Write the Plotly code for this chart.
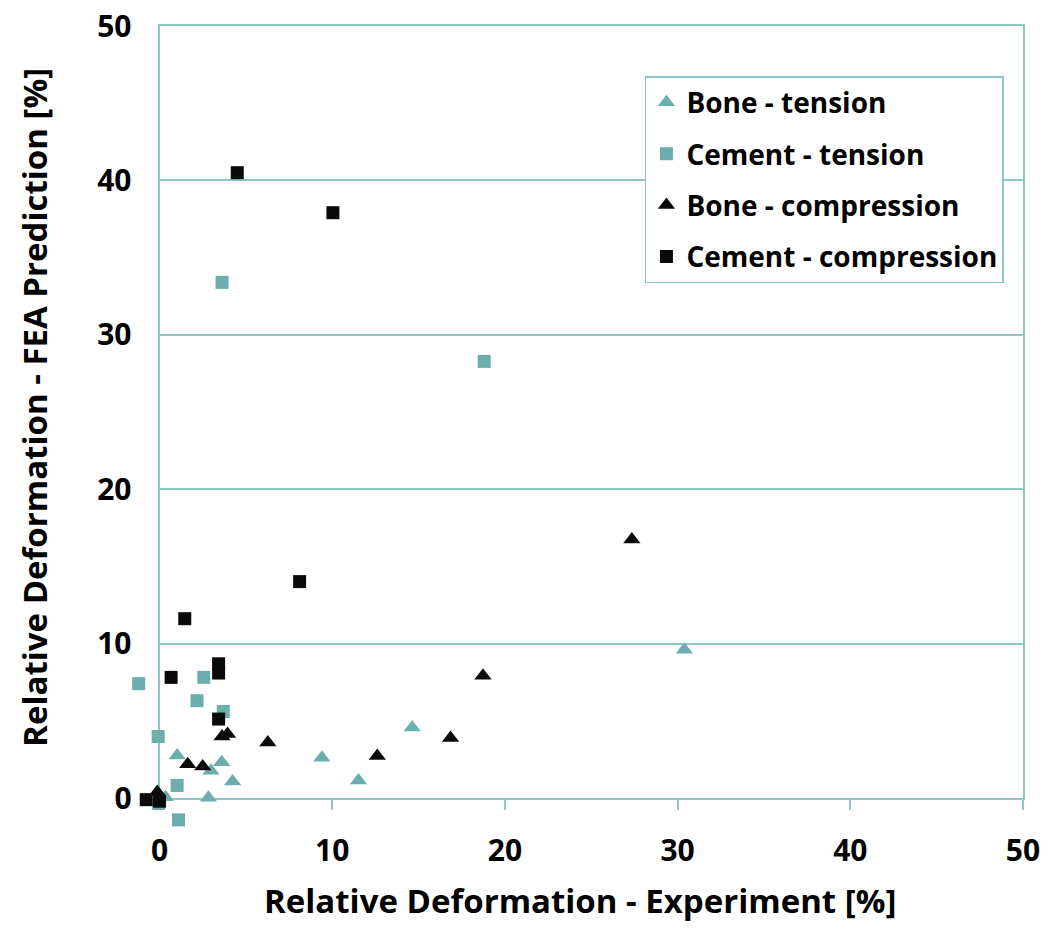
import plotly.graph_objects as go

# ---- data ----
bone_tension_x = [0.35, 1.02, 2.98, 3.60, 4.23, 2.83, 9.40, 11.52, 14.63, 30.39]
bone_tension_y = [0.05, 2.76, 1.77, 2.33, 1.08, 0.02, 2.61, 1.14, 4.58, 9.61]

cement_tension_x = [-1.21, 2.56, 2.17, 3.69, -0.08, 1.02, 1.10, -0.05, 3.62, 18.80]
cement_tension_y = [7.41, 7.82, 6.31, 5.61, 3.99, 0.82, -1.41, -0.35, 33.40, 28.28]

bone_comp_x = [-0.13, 1.63, 2.50, 3.62, 3.94, 6.27, 12.61, 16.85, 18.73, 27.35]
bone_comp_y = [0.40, 2.20, 2.05, 3.99, 4.15, 3.60, 2.72, 3.89, 7.93, 16.74]

cement_comp_x = [-0.77, 0.00, 3.42, 3.42, 3.42, 0.67, 1.46, 8.11, 10.04, 4.50]
cement_comp_y = [-0.10, -0.20, 5.12, 8.10, 8.70, 7.82, 11.62, 14.02, 37.91, 40.50]

series_names = ["Bone - tension", "Cement - tension", "Bone - compression", "Cement - compression"]
tick_vals = [0, 10, 20, 30, 40, 50]
x_title = "Relative Deformation - Experiment [%]"
y_title = "Relative Deformation - FEA Prediction [%]"
axis_max = 50
data_min = -2  # data area extends slightly below/left of the 0 axes

TEAL = "#6CAEAE"
LINE = "#8CC6C6"
BLACK = "#0A0A0A"
FONT = "Open Sans"

fig = go.Figure()
# empty trace so the framed 0..50 subplot (x/y) is drawn
fig.add_trace(go.Scatter(x=[], y=[], xaxis="x", yaxis="y", showlegend=False,
                         hoverinfo="skip"))
specs = [
    (bone_tension_x, bone_tension_y, "triangle-up", TEAL, 15),
    (cement_tension_x, cement_tension_y, "square", TEAL, 13),
    (bone_comp_x, bone_comp_y, "triangle-up", BLACK, 15),
    (cement_comp_x, cement_comp_y, "square", BLACK, 13),
]
for i, (xs, ys, sym, col, sz) in enumerate(specs):
    fig.add_trace(go.Scatter(
        x=xs, y=ys, mode="markers", name=series_names[i],
        legendgroup=f"g{i}", xaxis="x2", yaxis="y2",
        marker=dict(symbol=sym, color=col, size=sz, line=dict(width=0)),
        cliponaxis=False,
    ))

d0 = (0 - data_min) / (axis_max - data_min)
title_font = dict(size=33, family=FONT, color="black", weight="bold")

fig.update_layout(
    width=1042, height=925,
    margin=dict(l=117, r=27, t=18, b=104),
    paper_bgcolor="white", plot_bgcolor="rgba(0,0,0,0)",
    font=dict(family=FONT, color="black"),
    showlegend=True,
    legend=dict(
        x=0.579, y=0.9377, xanchor="left", yanchor="top",
        bgcolor="white", bordercolor=LINE, borderwidth=1.5,
        font=dict(size=28, family=FONT, color="black", weight="bold"),
        tracegroupgap=12, itemwidth=30,
    ),
    # visible frame axes: 0..50 box
    xaxis=dict(
        domain=[d0, 1], anchor="y", automargin=False,
        range=[0, axis_max], tickvals=tick_vals, showgrid=False, zeroline=False,
        showline=True, linecolor=LINE, linewidth=2, mirror=True,
        ticks="outside", ticklen=10, tickcolor=LINE, tickwidth=2,
        tickfont=dict(size=30, family=FONT, weight="bold"),
        ticklabelstandoff=15, ticklabeloverflow="allow",
    ),
    yaxis=dict(
        domain=[d0, 1], anchor="x", automargin=False,
        range=[0, axis_max], tickvals=tick_vals, showgrid=True, gridcolor=LINE, gridwidth=2,
        zeroline=False, showline=True, linecolor=LINE, linewidth=2, mirror=True,
        ticks="", tickfont=dict(size=30, family=FONT, weight="bold"),
        ticklabelstandoff=20, ticklabeloverflow="allow",
    ),
    # data axes: extend slightly below zero so near-zero/negative points show
    xaxis2=dict(domain=[0, 1], anchor="y2", range=[data_min, axis_max],
                visible=False, showgrid=False, zeroline=False, automargin=False),
    yaxis2=dict(domain=[0, 1], anchor="x2", range=[data_min, axis_max],
                visible=False, showgrid=False, zeroline=False, automargin=False),
    annotations=[
        dict(text=x_title, xref="paper", yref="paper", x=0.5067, y=-0.089,
             xanchor="center", yanchor="middle", showarrow=False, font=title_font),
        dict(text=y_title, xref="paper", yref="paper", x=-0.1015, y=0.5255,
             xanchor="center", yanchor="middle", textangle=-90, showarrow=False,
             font=title_font),
    ],
)

fig.write_html("out.html")
